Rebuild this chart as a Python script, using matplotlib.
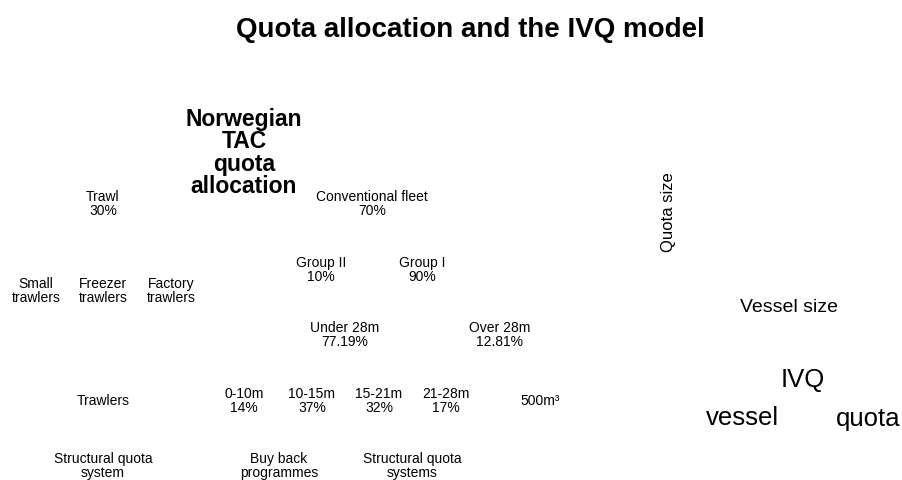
import matplotlib
matplotlib.use('Agg')
import matplotlib.pyplot as plt

plt.rcParams['font.family'] = ['Liberation Sans', 'DejaVu Sans']

# allocation tree labels (Norwegian TAC)
trawl_labels = ['Trawl\n30%', 'Small\ntrawlers', 'Freezer\ntrawlers', 'Factory\ntrawlers',
                'Trawlers', 'Structural quota\nsystem']
conv_labels = ['Conventional fleet\n70%', 'Group II\n10%', 'Group I\n90%',
               'Under 28m\n77.19%', 'Over 28m\n12.81%']
length_groups = ['0-10m', '10-15m', '15-21m', '21-28m']
length_shares = ['14%', '37%', '32%', '17%']
other_labels = ['500m³', 'Buy back\nprogrammes', 'Structural quota\nsystems']
ivq_labels = ['IVQ', 'vessel', 'quota']

# layout, in pixels of the 903x481 picture
trawl_xy = [(103, 204), (36, 291), (103, 291), (171, 291), (103, 401), (103, 466)]
conv_xy = [(372, 204), (321, 270), (422, 270), (345, 335), (500, 335)]
length_x = [244, 312, 379, 446]
length_y = 401
other_xy = [(540, 401), (279, 466), (412, 466)]
ivq_xy = [(803, 380), (742, 418), (868, 419)]

fig = plt.figure(figsize=(9.03, 4.81), dpi=100)
ax = fig.add_axes([0, 0, 1, 1])
ax.set_xlim(0, 903)
ax.set_ylim(481, 0)
ax.axis('off')

ax.text(470, 30, 'Quota allocation and the IVQ model', ha='center', va='center',
        fontsize=20, fontweight='bold')
ax.text(244, 153, 'Norwegian\nTAC\nquota\nallocation', ha='center', va='center',
        fontsize=16.5, fontweight='bold', linespacing=0.98)

for lab, (x, y) in zip(trawl_labels + conv_labels + other_labels, trawl_xy + conv_xy + other_xy):
    ax.text(x, y, lab, ha='center', va='center', fontsize=10, linespacing=1.05)

for g, s, x in zip(length_groups, length_shares, length_x):
    ax.text(x, length_y, g + '\n' + s, ha='center', va='center', fontsize=10, linespacing=1.05)

# IVQ model
ax.text(669, 212, 'Quota size', ha='center', va='center', rotation=90, fontsize=12)
ax.text(789, 308, 'Vessel size', ha='center', va='center', fontsize=14)
for lab, (x, y) in zip(ivq_labels, ivq_xy):
    ax.text(x, y, lab, ha='center', va='center', fontsize=18.5)

plt.savefig('out.png', dpi=100)
